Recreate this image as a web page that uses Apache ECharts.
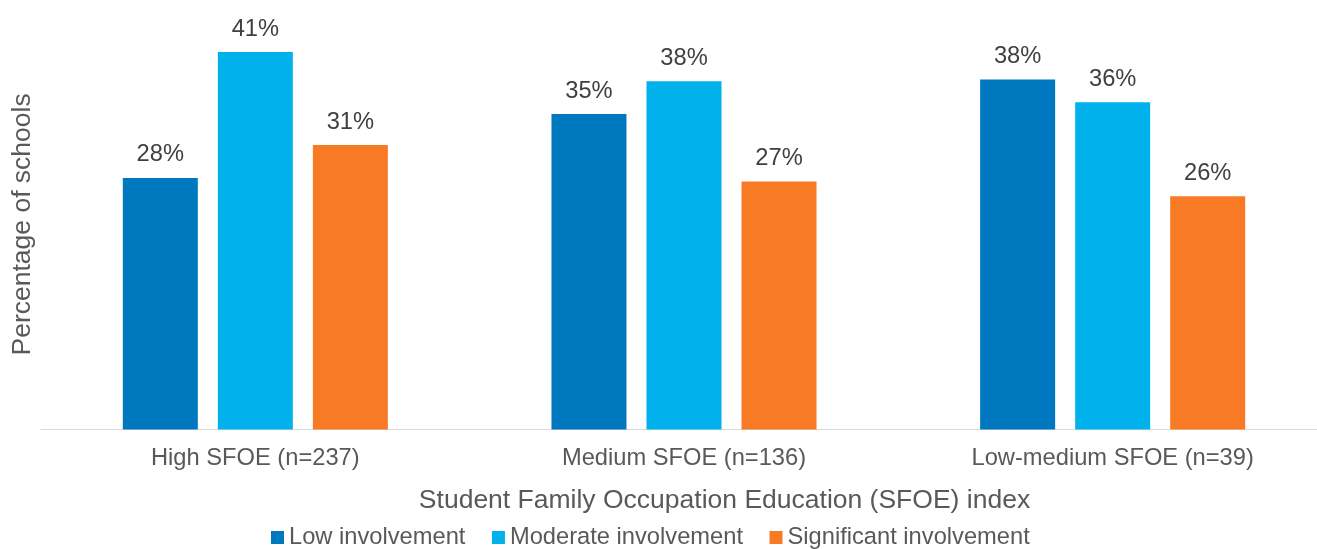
<!DOCTYPE html>
<html>
<head>
<meta charset="utf-8">
<script src="https://cdn.jsdelivr.net/npm/echarts@6/dist/echarts.min.js"></script>
<style>
  html, body { margin: 0; padding: 0; background: #fff; overflow: hidden; }
  /* plot area runs past the right edge in the reference, so the canvas is a bit wider than the window */
  #chart { width: 1330px; height: 549px; }
</style>
</head>
<body>
<div id="chart"></div>
<script>
// data (percent of schools)
var categories = ['High SFOE (n=237)', 'Medium SFOE (n=136)', 'Low-medium SFOE (n=39)'];
var seriesNames = ['Low involvement', 'Moderate involvement', 'Significant involvement'];
var lowValues = [27.6, 34.6, 38.4];
var moderateValues = [41.4, 38.2, 35.9];
var significantValues = [31.2, 27.2, 25.6];
var colors = ['#0078bf', '#00b1eb', '#f97a24'];

var font = 'Liberation Sans, Arial, sans-serif';

function barSeries(name, data, color) {
  return {
    name: name,
    type: 'bar',
    data: data,
    barWidth: 75,
    barGap: '26.7%',
    itemStyle: { color: color },
    label: {
      show: true,
      position: 'top',
      distance: 11,
      fontFamily: font,
      fontSize: 23.7,
      color: '#404040',
      formatter: function (p) { return Math.round(p.value) + '%'; }
    }
  };
}

var chart = echarts.init(document.getElementById('chart'));
chart.setOption({
  animation: false,
  color: colors,
  grid: { left: 41, top: 19.3, width: 1286, height: 410.2, containLabel: false },
  legend: {
    data: seriesNames,
    left: 266,
    top: 520.5,
    icon: 'rect',
    itemWidth: 13,
    itemHeight: 13,
    itemGap: 26.5,
    textStyle: { fontFamily: font, fontSize: 23.7, color: '#595959' }
  },
  xAxis: {
    type: 'category',
    data: categories,
    name: 'Student Family Occupation Education (SFOE) index',
    nameLocation: 'middle',
    nameGap: 58,
    nameTextStyle: { fontFamily: font, fontSize: 26.5, color: '#595959', padding: [0, 0, 0, 81] },
    axisLine: { lineStyle: { color: '#d9d9d9', width: 1 } },
    axisTick: { show: false },
    axisLabel: { margin: 17, fontFamily: font, fontSize: 23.7, color: '#595959' }
  },
  yAxis: {
    type: 'value',
    min: 0,
    max: 45,
    name: 'Percentage of schools',
    nameLocation: 'middle',
    nameGap: 5,
    nameTextStyle: { fontFamily: font, fontSize: 26.5, color: '#595959' },
    axisLine: { show: false },
    axisTick: { show: false },
    axisLabel: { show: false },
    splitLine: { show: false }
  },
  series: [
    barSeries(seriesNames[0], lowValues, colors[0]),
    barSeries(seriesNames[1], moderateValues, colors[1]),
    barSeries(seriesNames[2], significantValues, colors[2])
  ]
});
</script>
</body>
</html>
